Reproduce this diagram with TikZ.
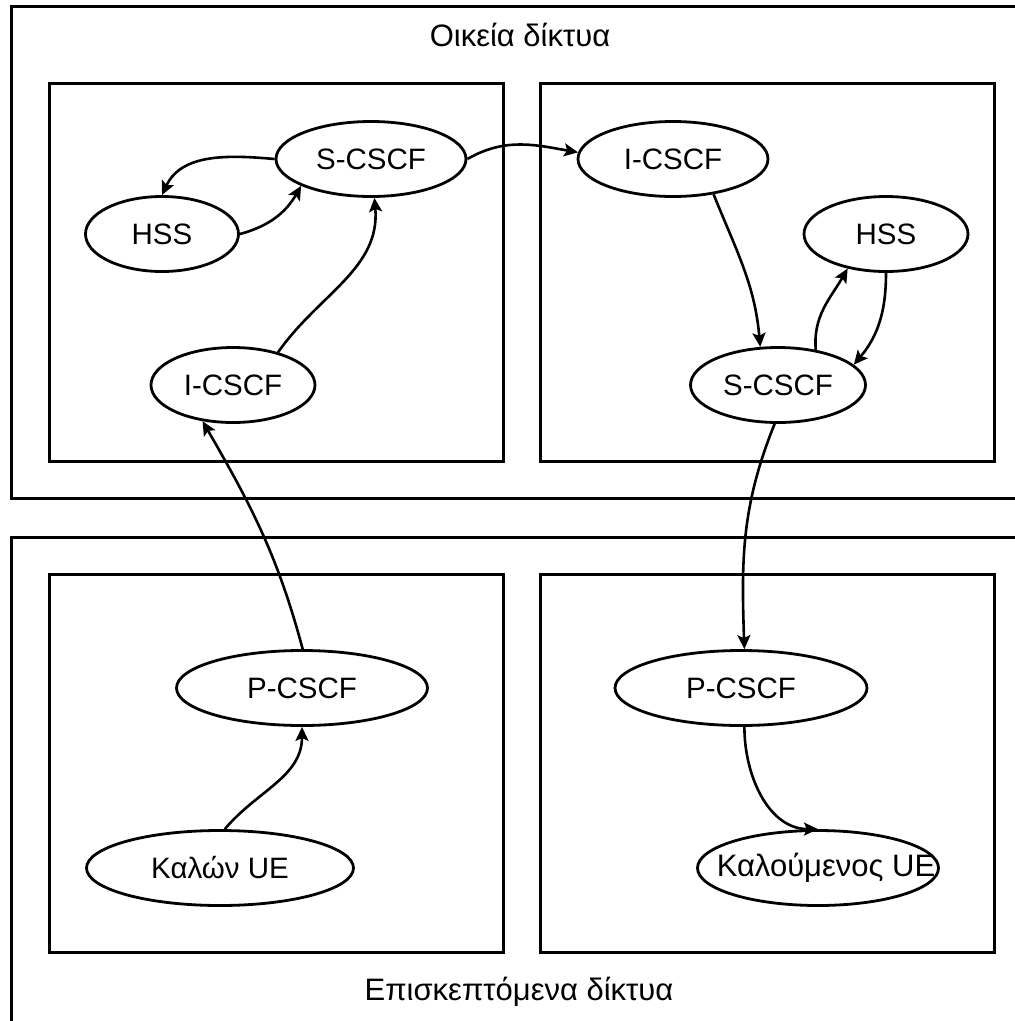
\documentclass[tikz,border=0pt]{standalone}
\usepackage{fontspec}
\setmainfont{Liberation Sans}
\usetikzlibrary{shapes.geometric,arrows.meta}

\begin{document}
\begin{tikzpicture}[x=1pt,y=-1pt,line width=2.8pt,
    netbox/.style={draw,line width=3pt},
    elem/.style={draw,ellipse,inner sep=0,minimum height=75pt,font=\fontsize{29.5}{36}\selectfont},
    link/.style={-{Stealth[length=14pt,width=13pt,inset=3pt]},line width=2.6pt}]
      \clip (0,0) rectangle (1015,1021);
      \fill[white] (0,0) rectangle (1015,1021);
      \draw[netbox] (1040,6.5) -- (11,6.5) -- (11,498) -- (1040,498);
      \draw[netbox] (1040,537) -- (11,537) -- (11,1040);
      \foreach \bx/\by in {49/83,540/83,49/574,540/574}
        \draw[netbox] (\bx,\by) rectangle +(454,378);
      \node[font=\fontsize{31}{36}\selectfont] (home) at (520,35) {Οικεία δίκτυα};
      \node[font=\fontsize{31}{36}\selectfont] (visit) at (519,992) {Επισκεπτόμενα δίκτυα};
      \node[elem,minimum width=190pt] (hS) at (371,159) {S-CSCF};
      \node[elem,minimum width=153pt] (hH) at (162,234) {HSS};
      \node[elem,minimum width=164pt] (hI) at (233,385) {I-CSCF};
      \node[elem,minimum width=190pt] (tI) at (673,159) {I-CSCF};
      \node[elem,minimum width=164pt] (tH) at (886,234) {HSS};
      \node[elem,minimum width=175pt] (tS) at (778,385) {S-CSCF};
      \node[elem,minimum width=251pt] (vP) at (302,688) {P-CSCF};
      \node[elem,minimum width=267pt] (vU) at (220,868) {Καλών UE};
      \node[elem,minimum width=252pt] (wP) at (741,688) {P-CSCF};
      \node[elem,minimum width=241pt,font=\fontsize{31}{36}\selectfont] (wU) at (818,868)
        {\makebox[0pt]{\hspace{16pt}Καλούμενος UE}};
      \draw[link] (hS.west) to[out=175,in=65] (hH.north);
      \draw[link] (hH.east) to[out=15,in=-120] (hS.-159);
      \draw[link] (hI.36) to[out=55,in=-85] (hS.-85);
      \draw[link] (hS.east) to[out=30,in=170] (tI.176);
      \draw[link] (tI.-41) to[out=-68,in=95] (tS.115);
      \draw[link] (tS.43) to[out=95,in=-120] (tH.-138);
      \draw[link] (tH.-90) to[out=-90,in=50] (tS.15);
      \draw[link] (vP.89) to[out=105,in=-60] (hI.-130);
      \draw[link] (vU.83) to[out=50,in=-90] (vP.-90);
      \draw[link] (tS.-95) to[out=-112,in=92] (wP.85);
      \draw[link] (wP.-85) to[out=-90,in=180] (wU.90);
\end{tikzpicture}
\end{document}
